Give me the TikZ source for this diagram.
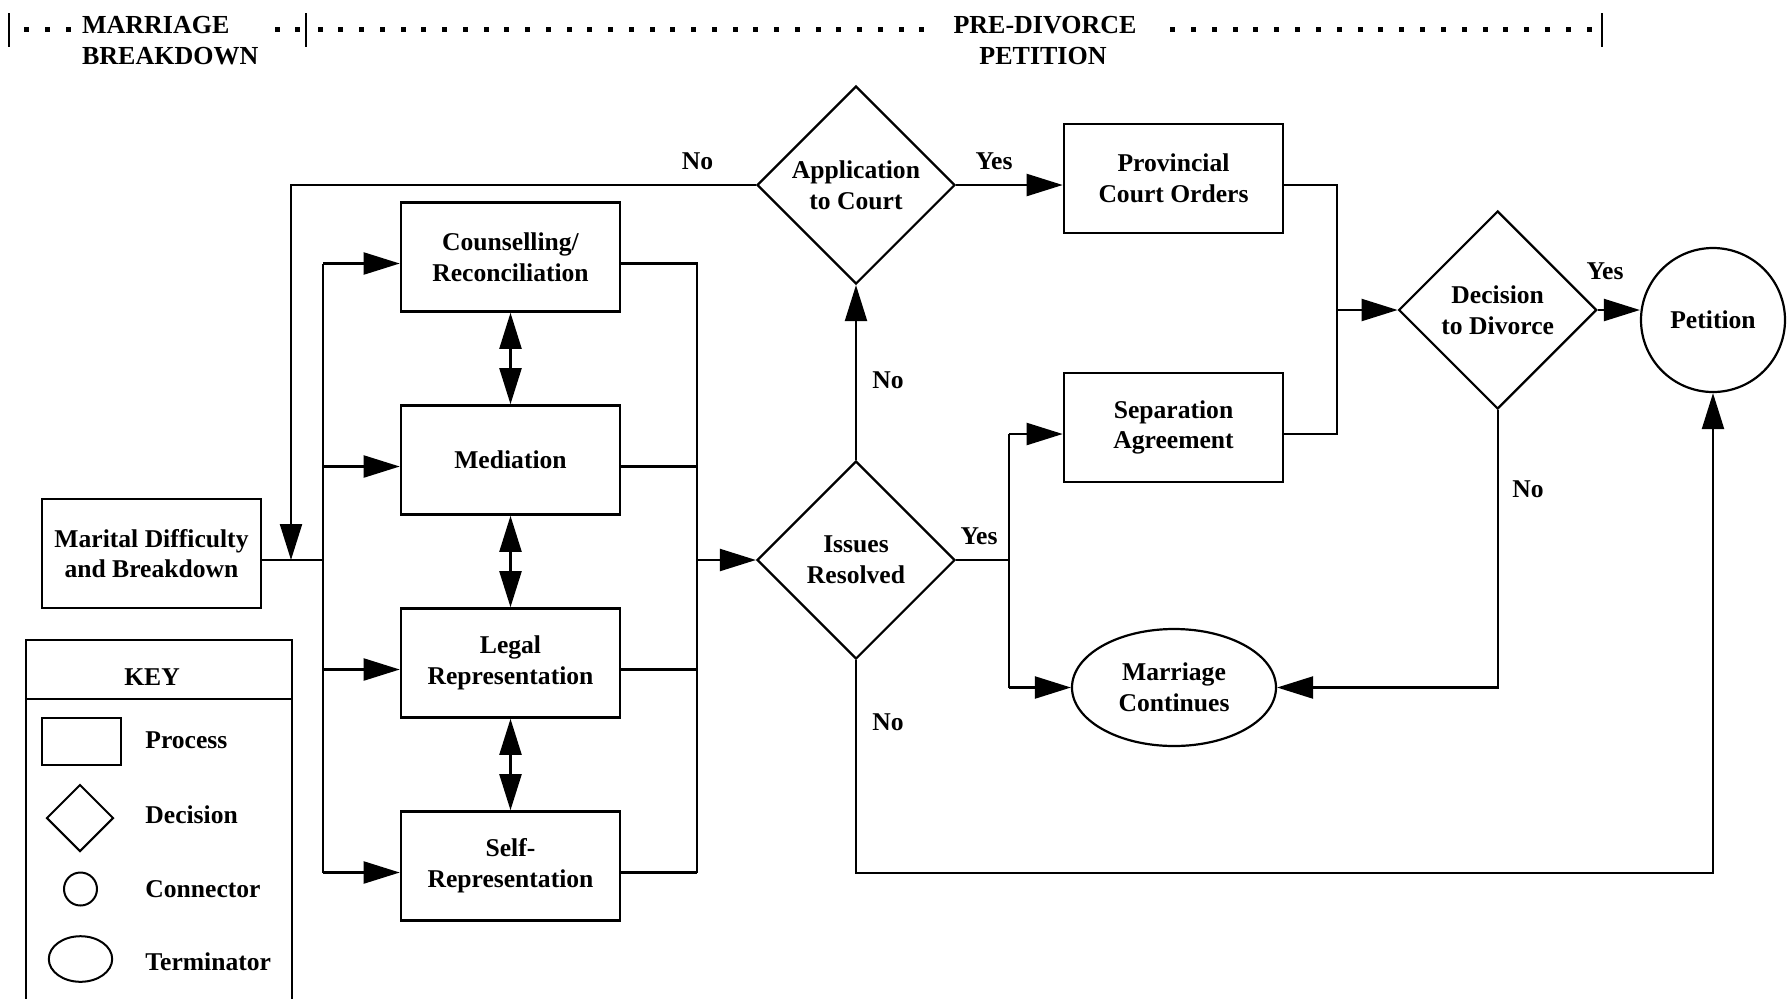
\documentclass[tikz,border=0pt]{standalone}
\usepackage{fontspec}
\setmainfont{Liberation Serif}
\usetikzlibrary{arrows.meta,shapes.geometric,calc}
\begin{document}
\begin{tikzpicture}[x=0.5pt,y=-0.5pt,
  every node/.style={font=\bfseries\fontsize{12.8}{15.4}\selectfont},
  proc/.style={draw,line width=1.3pt,minimum width=109.5pt,minimum height=54.5pt,inner sep=0pt,align=center},
  dia/.style={draw,diamond,aspect=1,minimum width=99pt,minimum height=99pt,inner sep=0pt,line width=1.1pt,align=center},
  term/.style={draw,ellipse,minimum width=102pt,minimum height=58.5pt,inner sep=0pt,line width=1.1pt,align=center},
  conn/.style={draw,circle,minimum size=72pt,inner sep=0pt,line width=1.1pt,align=center},
  lbl/.style={inner sep=0pt},
  hdr/.style={font=\bfseries\fontsize{13}{15}\selectfont,inner sep=0pt},
  ln/.style={line width=1.1pt},
  arr/.style={ln,-{Triangle[length=18pt,width=11pt]}},
  darr/.style={ln,{Triangle[length=18pt,width=11pt]}-{Triangle[length=18pt,width=11pt]}},
  keyshape/.style={draw,line width=1pt,inner sep=0pt},
  keylbl/.style={anchor=west,inner sep=0pt}
]
\useasboundingbox (0,0) rectangle (1790,998);

% header
\draw[line width=1.3pt] (9,13) -- (9,47);
\draw[line width=1.3pt] (306,13) -- (306,47);
\draw[line width=1.3pt] (1602,13) -- (1602,47);
\foreach \x in {26.7,47.4,68.1,277.7,297.7}
  \fill ({\x-2.5},26.8) rectangle ++(5,5);
\foreach \i in {0,...,29}
  \fill ({320+20.75*\i-2.5},26.8) rectangle ++(5,5);
\foreach \i in {0,...,20}
  \fill ({1172.7+20.82*\i-2.5},26.8) rectangle ++(5,5);
\node[hdr,anchor=base west] (h1) at (81.7,33) {MARRIAGE};
\node[hdr,anchor=base west] (h2) at (81.7,64) {BREAKDOWN};
\node[hdr,anchor=base] (h3) at (1045,33) {PRE-DIVORCE};
\node[hdr,anchor=base] (h4) at (1043,64) {PETITION};

% main nodes
\node[proc] (mar) at (151.5,553.5) {Marital Difficulty\\and Breakdown};
\node[proc] (cou) at (510.5,257) {Counselling/\\Reconciliation};
\node[proc] (med) at (510.5,460) {Mediation};
\node[proc] (leg) at (510.5,663) {Legal\\Representation};
\node[proc] (slf) at (510.5,866) {Self-\\Representation};
\node[dia] (app) at (856,185) {Application\\to Court};
\node[dia] (iss) at (856,560) {Issues\\Resolved};
\node[proc] (prov) at (1173.5,178.5) {Provincial\\Court Orders};
\node[proc] (sep) at (1173.5,427.5) {Separation\\Agreement};
\node[dia] (dec) at (1497.7,310) {Decision\\to Divorce};
\node[conn] (pet) at (1713,320) {Petition};
\node[term] (mc) at (1174,687.5) {Marriage\\Continues};

% helper coordinates
\coordinate (busL) at (323,0);
\coordinate (busR) at (697,0);
\coordinate (fbX) at (291,0);
\coordinate (busM) at (1337,0);
\coordinate (busY) at (1009,0);
\coordinate (bot) at (1713,873);
\coordinate (marE) at ($(mar.east)+(0,6.5)$);
\coordinate (couW) at ($(cou.west)+(0,6.5)$);
\coordinate (medW) at ($(med.west)+(0,6.5)$);
\coordinate (legW) at ($(leg.west)+(0,6.5)$);
\coordinate (slfW) at ($(slf.west)+(0,6.5)$);
\coordinate (couE) at ($(cou.east)+(0,6.5)$);
\coordinate (medE) at ($(med.east)+(0,6.5)$);
\coordinate (legE) at ($(leg.east)+(0,6.5)$);
\coordinate (slfE) at ($(slf.east)+(0,6.5)$);
\coordinate (provE) at ($(prov.east)+(0,6.5)$);
\coordinate (sepE) at ($(sep.east)+(0,6.5)$);
\coordinate (sepW) at ($(sep.west)+(0,6.5)$);

% connectors
\draw[ln] (marE) -- (marE -| busL);
\draw[ln] (couW -| busL) -- (slfW -| busL);
\foreach \nm in {couW,medW,legW,slfW} \draw[arr] (\nm -| busL) -- (\nm);
\draw[ln] (couE) -- (couE -| busR) -- (slfE -| busR);
\foreach \nm in {medE,legE,slfE} \draw[ln] (\nm) -- (\nm -| busR);
\draw[arr] (iss.west -| busR) -- (iss.west);
\draw[darr] (cou.south) -- (med.north);
\draw[darr] (med.south) -- (leg.north);
\draw[darr] (leg.south) -- (slf.north);
\draw[arr] (iss.north) -- (app.south);
\draw[arr] (app.west) -| (marE -| fbX);
\draw[arr] (app.east) -- (app.east -| prov.west);
\draw[ln] (provE) -- (provE -| busM) -- (sepE -| busM) -- (sepE);
\draw[arr] (dec.west -| busM) -- (dec.west);
\draw[arr] (dec.east) -- (dec.east -| pet.west);
\draw[ln] (iss.east) -- (iss.east -| busY);
\draw[ln] (sepW -| busY) -- (mc.west -| busY);
\draw[arr] (sepW -| busY) -- (sepW);
\draw[arr] (mc.west -| busY) -- (mc.west);
\draw[arr] (dec.south) |- (mc.east);
\draw[arr] (iss.south) |- (bot) -- (pet.south);

% labels
\node[lbl] (l1) at (697.5,161) {No};
\node[lbl] (l2) at (994,161) {Yes};
\node[lbl] (l3) at (888,380) {No};
\node[lbl] (l4) at (979,536) {Yes};
\node[lbl] (l5) at (888,722.6) {No};
\node[lbl] (l6) at (1605,271) {Yes};
\node[lbl] (l7) at (1528,489) {No};

% key
\node[draw,line width=1.1pt,minimum width=133pt,minimum height=190pt,inner sep=0pt] (key) at (159,830) {};
\draw[ln] ($(key.north west)+(0,60)$) -- ($(key.north east)+(0,60)$);
\node (keyt) at (152,677) {KEY};
\node[keyshape,minimum width=39.5pt,minimum height=23.5pt] (kp) at (81.5,741.5) {};
\node[keyshape,diamond,aspect=1,minimum width=33.5pt,minimum height=33.5pt] (kd) at (80,818) {};
\node[keyshape,circle,minimum size=16.5pt] (kc) at (80.5,889) {};
\node[keyshape,ellipse,minimum width=31.7pt,minimum height=22.8pt] (kt) at (80.5,959) {};
\node[keylbl] (kpl) at (145,740) {Process};
\node[keylbl] (kdl) at (145,815) {Decision};
\node[keylbl] (kcl) at (145,889) {Connector};
\node[keylbl] (ktl) at (145,962) {Terminator};
\end{tikzpicture}
\end{document}
